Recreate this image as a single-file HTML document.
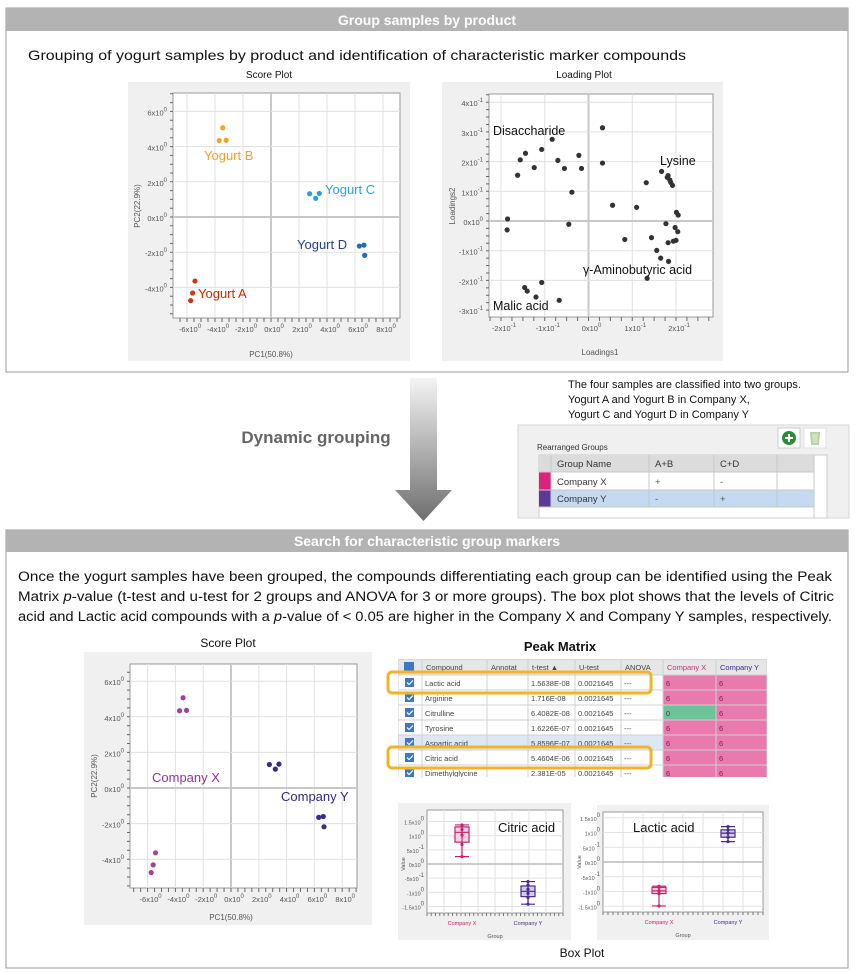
<!DOCTYPE html>
<html><head><meta charset="utf-8"><style>
html,body{margin:0;padding:0;background:#fff;}
svg{display:block;font-family:"Liberation Sans",sans-serif;}
</style></head><body>
<svg id="page" width="855" height="972" viewBox="0 0 855 972" xmlns="http://www.w3.org/2000/svg">
<defs>
<linearGradient id="arrowGrad" x1="0" y1="0" x2="0" y2="1"><stop offset="0" stop-color="#f4f4f4"/><stop offset="1" stop-color="#6e6e6e"/></linearGradient>
</defs>
<g>
<rect x="6" y="8" width="842" height="364" fill="#fff" stroke="#9a9a9a" stroke-width="1"/>
<rect x="6" y="8" width="842" height="23" fill="#b3b3b3"/>
<text x="427" y="25" text-anchor="middle" fill="#fff" font-weight="bold" font-size="14">Group samples by product</text>
<text x="28" y="60" font-size="14" fill="#111" textLength="658" lengthAdjust="spacingAndGlyphs">Grouping of yogurt samples by product and identification of characteristic marker compounds</text>
<text x="269" y="78" text-anchor="middle" font-size="10" fill="#111">Score Plot</text>
<text x="584" y="78" text-anchor="middle" font-size="10" fill="#111">Loading Plot</text>
<rect x="128" y="82" width="282" height="279" fill="#f0f0f0"/>
<rect x="442" y="82" width="281" height="279" fill="#f0f0f0"/>
<g id="score1"></g>
<g id="loading"></g>
</g>
<g>
<path d="M410,378 L437,378 L437,490 L452,490 L423.5,521 L395,490 L410,490 Z" fill="url(#arrowGrad)"/>
<text x="316" y="443" text-anchor="middle" font-size="17" font-weight="bold" fill="#666">Dynamic grouping</text>
<text x="568" y="388" font-size="11" fill="#111">The four samples are classified into two groups.</text>
<text x="568" y="403" font-size="11" fill="#111">Yogurt A and Yogurt B in Company X,</text>
<text x="568" y="418" font-size="11" fill="#111">Yogurt C and Yogurt D in Company Y</text>
<g>
<rect x="518" y="425" width="331" height="93" fill="#f0f0f0" stroke="#d6d6d6"/>
<text x="537" y="450" font-size="8" fill="#333">Rearranged Groups</text>
<rect x="778" y="428" width="22" height="20" fill="#fff" stroke="#ccc"/>
<circle cx="789" cy="438" r="7" fill="#2e8b3a"/>
<path d="M785,438 h8 M789,434 v8" stroke="#fff" stroke-width="2"/>
<rect x="804" y="428" width="22" height="20" fill="#fff" stroke="#e0e0e0"/>
<path d="M810,433 h10 M811,434 l1,10 h6 l1,-10" stroke="#b8d4a8" stroke-width="2" fill="#cfe3c2"/>
<rect x="539" y="455" width="288" height="63" fill="#fff" stroke="#ccc"/>
<rect x="539" y="455" width="275" height="17" fill="#dcdcdc"/>
<rect x="539" y="490" width="275" height="17" fill="#c5d9f1"/>
<rect x="539" y="472" width="12" height="18" fill="#e0207a"/>
<rect x="539" y="490" width="12" height="17" fill="#5b3a9a"/>
<path d="M539,472 H814 M539,490 H814 M539,507 H814 M551,455 V507 M649,455 V507 M714,455 V507 M777,455 V507 M814,455 V518" stroke="#c8c8c8"/>
<text x="557" y="467" font-size="9.5" fill="#333">Group Name</text>
<text x="655" y="467" font-size="9.5" fill="#333">A+B</text>
<text x="720" y="467" font-size="9.5" fill="#333">C+D</text>
<text x="557" y="485" font-size="9.5" fill="#333">Company X</text>
<text x="655" y="485" font-size="9.5" fill="#555">+</text>
<text x="720" y="485" font-size="9.5" fill="#555">-</text>
<text x="557" y="502" font-size="9.5" fill="#333">Company Y</text>
<text x="655" y="502" font-size="9.5" fill="#555">-</text>
<text x="720" y="502" font-size="9.5" fill="#555">+</text>
</g>
</g>
<g>
<rect x="6" y="530" width="842" height="438" fill="#fff" stroke="#9a9a9a"/>
<rect x="6" y="530" width="842" height="22" fill="#b3b3b3"/>
<text x="427" y="546" text-anchor="middle" fill="#fff" font-weight="bold" font-size="14">Search for characteristic group markers</text>
<text x="18" y="581" font-size="13.5" fill="#111" textLength="814" lengthAdjust="spacingAndGlyphs">Once the yogurt samples have been grouped, the compounds differentiating each group can be identified using the Peak</text>
<text x="18" y="601" font-size="13.5" fill="#111" textLength="816" lengthAdjust="spacingAndGlyphs">Matrix <tspan font-style="italic">p</tspan>-value (t-test and u-test for 2 groups and ANOVA for 3 or more groups). The box plot shows that the levels of Citric</text>
<text x="18" y="621" font-size="13.5" fill="#111" textLength="814" lengthAdjust="spacingAndGlyphs">acid and Lactic acid compounds with a <tspan font-style="italic">p</tspan>-value of &lt; 0.05 are higher in the Company X and Company Y samples, respectively.</text>
<text x="228" y="647" text-anchor="middle" font-size="12" fill="#111">Score Plot</text>
<rect x="84" y="652" width="288" height="273" fill="#f0f0f0"/>
<g id="score2"></g>
<text x="560" y="651" text-anchor="middle" font-size="13" font-weight="bold" fill="#111">Peak Matrix</text>
<g id="matrix"></g>
<rect x="398" y="803" width="173" height="137" fill="#f0f0f0"/>
<rect x="597" y="805" width="172" height="135" fill="#f0f0f0"/>
<g id="box1"></g>
<g id="box2"></g>
<text x="582" y="957" text-anchor="middle" font-size="12" fill="#111">Box Plot</text>
</g>
</svg>
<script>
const groupA_pc1=[-5.43,-5.6,-5.74];
const groupA_pc2=[-3.64,-4.32,-4.75];
const groupB_pc1=[-3.45,-3.7,-3.2];
const groupB_pc2=[5.07,4.34,4.36];
const groupC_pc1=[2.76,3.19,3.45];
const groupC_pc2=[1.32,1.06,1.34];
const groupD_pc1=[6.31,6.64,6.69];
const groupD_pc2=[-1.65,-1.6,-2.18];
const scoreXTicks=[-6,-4,-2,0,2,4,6,8];
const scoreYTicks=[-4,-2,0,2,4,6];
const loadX=[-0.185,-0.186,-0.162,-0.156,-0.144,-0.124,-0.107,-0.083,-0.070,-0.055,-0.038,-0.045,-0.022,-0.016,0.032,0.032,0.055,0.083,0.110,0.132,0.144,0.156,0.165,0.167,0.182,0.186,0.192,0.177,0.182,0.183,0.201,0.205,0.198,0.204,0.200,0.194,0.134,-0.107,-0.146,-0.140,-0.120,-0.067,0.180,0.188];
const loadY=[0.007,-0.030,0.154,0.206,0.228,0.180,0.241,0.275,0.204,0.177,0.097,-0.011,0.221,0.177,0.314,0.195,0.053,-0.062,0.046,0.129,-0.056,-0.099,-0.125,0.167,0.153,0.138,0.120,-0.009,-0.073,-0.136,0.029,0.020,-0.022,-0.036,-0.065,-0.068,-0.193,-0.207,-0.224,-0.236,-0.256,-0.267,0.147,0.130];
const loadXTicks=[-2,-1,0,1,2];
const loadYTicks=[-3,-2,-1,0,1,2,3,4];
const compounds=["Lactic acid","Arginine","Citrulline","Tyrosine","Aspartic acid","Citric acid","Dimethylglycine"];
const tTest=["1.5638E-08","1.716E-08","6.4082E-08","1.6226E-07","5.8596E-07","5.4604E-06","2.381E-05"];
const uTest=["0.0021645","0.0021645","0.0021645","0.0021645","0.0021645","0.0021645","0.0021645"];
const countX=[6,6,0,6,6,6,6];
const countY=[6,6,6,6,6,6,6];
const citricX=[1.38,1.34,1.22,1.02,0.69,0.26];
const citricY=[-0.62,-0.74,-0.89,-1.04,-1.19,-1.42];
const lacticX=[-0.82,-0.86,-0.98,-1.07,-1.49];
const lacticY=[1.2,1.09,0.98,0.84,0.69];
const boxYTicks=[-1.5,-1,-0.5,0,0.5,1,1.5];
const boxCats=["Company X","Company Y"];

const NS="http://www.w3.org/2000/svg";
function mk(parent,tag,attrs,txt){const e=document.createElementNS(NS,tag);for(const k in attrs)e.setAttribute(k,attrs[k]);if(txt!==undefined)e.textContent=txt;parent.appendChild(e);return e;}
function sciLabel(parent,x,y,mant,exp,anchor){
  const t=mk(parent,"text",{x:x,y:y,"font-size":7.5,fill:"#555","text-anchor":anchor});
  
  
  mk(t,"tspan",{},mant+"x10");
  mk(t,"tspan",{dy:-4,"font-size":6},exp);
  return t;
}
function axes(g,p){
  const bg=mk(g,"rect",{x:p.x0,y:p.y0,width:p.x1-p.x0,height:p.y1-p.y0,fill:"#fff",stroke:"#999"});
  
  
  p.xt.forEach(v=>{const X=p.sx(v);const l=mk(g,"line",{x1:X,x2:X,y1:p.y0,y2:p.y1,stroke:v===0?"#c8c8c8":"#e0e0e0","stroke-width":v===0?2:1});
    
    
    sciLabel(g,X+3,p.y1+14,p.xm(v),p.xe(v),"middle");});
  p.yt.forEach(v=>{const Y=p.sy(v);const l=mk(g,"line",{x1:p.x0,x2:p.x1,y1:Y,y2:Y,stroke:v===0?"#c8c8c8":"#e0e0e0","stroke-width":v===0?2:1});
    
    
    sciLabel(g,p.x0-6,Y+4,p.ym(v),p.ye(v),"end");});
  const xs=p.xt[1]-p.xt[0], ys=p.yt[1]-p.yt[0];
  let d="";
  for(let v=p.xt[0]-xs;v<=p.xt[p.xt.length-1]+xs;v+=xs/4){const X=p.sx(v);if(X>p.x0&&X<p.x1)d+=`M${X},${p.y1} v4 `;}
  for(let v=p.yt[0]-ys;v<=p.yt[p.yt.length-1]+ys;v+=ys/4){const Y=p.sy(v);if(Y>p.y0&&Y<p.y1)d+=`M${p.x0},${Y} h-3 `;}
  const tk=mk(g,"path",{d:d,stroke:"#666","stroke-width":1,fill:"none"});
  
  
}
function dots(g,xs,ys,sx,sy,color,name){
  xs.forEach((v,i)=>{const c=mk(g,"circle",{cx:sx(v),cy:sy(ys[i]),r:2.6,fill:color});
    
    });
}
function label(g,x,y,txt,color,size,name,anchor){
  const t=mk(g,"text",{x:x,y:y,fill:color,"font-size":size,"text-anchor":anchor||"start"},txt);
  
  
}
function scorePlot(g,x0,x1,y0,y1,ox,kx,oy,ky){
  const sx=v=>ox+v*kx, sy=v=>oy-v*ky;
  axes(g,{x0,x1,y0,y1,sx,sy,xt:scoreXTicks,yt:scoreYTicks,xm:v=>v,xe:()=>"0",ym:v=>v,ye:()=>"0"});
  return {sx,sy};
}
{const g=document.getElementById("score1");
 const {sx,sy}=scorePlot(g,173,400,93,318,271,14,217,17.6);
 dots(g,groupA_pc1,groupA_pc2,sx,sy,"#cc3a12","yogurt-a-point");
 dots(g,groupB_pc1,groupB_pc2,sx,sy,"#f0a22a","yogurt-b-point");
 dots(g,groupC_pc1,groupC_pc2,sx,sy,"#2a9fd8","yogurt-c-point");
 dots(g,groupD_pc1,groupD_pc2,sx,sy,"#1f6cb8","yogurt-d-point");
 label(g,198,298,"Yogurt A","#cc2a00",13,"yogurt-a-label");
 label(g,204,160,"Yogurt B","#f0a030",13,"yogurt-b-label");
 label(g,325,194,"Yogurt C","#29a3dc",13,"yogurt-c-label");
 label(g,297,249,"Yogurt D","#1f3f8f",13,"yogurt-d-label");
 label(g,271,357,"PC1(50.8%)","#555",8,"x-axis-title","middle");
 const t=mk(g,"text",{x:0,y:0,transform:"translate(140,206) rotate(-90)","font-size":8,fill:"#555","text-anchor":"middle"},"PC2(22.9%)");
 
 
}
{const g=document.getElementById("loading");
 const sx=v=>588.5+v*437.5, sy=v=>221-v*297;
 axes(g,{x0:489,x1:713,y0:94,y1:317,sx:v=>sx(v/10),sy:v=>sy(v/10),xt:loadXTicks,yt:loadYTicks,xm:v=>v,xe:v=>v===0?"0":"-1",ym:v=>v,ye:v=>v===0?"0":"-1"});
 dots(g,loadX,loadY,sx,sy,"#333","loading-point");
 label(g,493,135,"Disaccharide","#111",12.5,"disaccharide-label");
 label(g,660,165,"Lysine","#111",12.5,"lysine-label");
 label(g,583,274,"γ-Aminobutyric acid","#111",12.5,"gaba-label");
 label(g,493,310,"Malic acid","#111",12.5,"malic-acid-label");
 label(g,600,355,"Loadings1","#555",8,"x-axis-title","middle");
 const t=mk(g,"text",{x:0,y:0,transform:"translate(455,206) rotate(-90)","font-size":8,fill:"#555","text-anchor":"middle"},"Loadings2");
 
 
}
{const g=document.getElementById("score2");
 const {sx,sy}=scorePlot(g,130,357,664,888,231,13.9,788,17.8);
 dots(g,groupA_pc1.concat(groupB_pc1),groupA_pc2.concat(groupB_pc2),sx,sy,"#a2409a","company-x-point");
 dots(g,groupC_pc1.concat(groupD_pc1),groupC_pc2.concat(groupD_pc2),sx,sy,"#3b2a88","company-y-point");
 label(g,152,782,"Company X","#93368f",13,"company-x-label");
 label(g,281,801,"Company Y","#34267e",13,"company-y-label");
 label(g,231,920,"PC1(50.8%)","#555",8,"x-axis-title","middle");
 const t=mk(g,"text",{x:0,y:0,transform:"translate(97,776) rotate(-90)","font-size":8,fill:"#555","text-anchor":"middle"},"PC2(22.9%)");
 
 
}
{const g=document.getElementById("matrix");
 const cols=[398,422,487,528,575,621,663,716,767];
 const top=659,hh=16,rh=15,bottom=777;
 const cl=mk(g,"clipPath",{id:"mclip"});mk(cl,"rect",{x:398,y:659,width:369,height:bottom-659});
 const m=mk(g,"g",{"clip-path":"url(#mclip)"});
 const hb=mk(m,"rect",{x:398,y:top,width:369,height:hh,fill:"#e6e6e6",stroke:"#c8c8c8"});
 
 
 const heads=["","Compound","Annotat","t-test  ▲","U-test","ANOVA","Company X","Company Y"];
 heads.forEach((h,i)=>{if(h){const t=mk(m,"text",{x:cols[i]+4,y:top+11,"font-size":7.5,fill:i===6?"#c0307a":(i===7?"#3b2a88":"#444")},h);
   
   }});
 compounds.forEach((c,r)=>{
  const y=top+hh+r*rh;
  const rowbg=mk(m,"rect",{x:398,y:y,width:265,height:rh,fill:r===4?"#dde8f4":"#fff"});
  
  
  const cx=mk(m,"rect",{x:663,y:y,width:53,height:rh,fill:countX[r]===0?"#6cc398":"#e97aae"});
  
  
  const cy=mk(m,"rect",{x:716,y:y,width:51,height:rh,fill:countY[r]===0?"#6cc398":"#e97aae"});
  
  
  const cb=mk(m,"rect",{x:405,y:y+3,width:9,height:9,fill:"#3a78c8"});
  
  
  mk(m,"path",{d:`M407,${y+7.5} l2,2 l4,-4`,stroke:"#fff","stroke-width":1.2,fill:"none"});
  [c,"",tTest[r],uTest[r],"---",String(countX[r]),String(countY[r])].forEach((v,i)=>{
    if(v!==""){const t=mk(m,"text",{x:cols[i+1]+3,y:y+11,"font-size":7.5,fill:i>=5?"#7a2050":"#444"},v);
    
    }});
 });
 let d="";cols.forEach(x=>d+=`M${x},${top} V${bottom} `);
 for(let r=0;r<=compounds.length;r++)d+=`M398,${top+hh+r*rh} H767 `;
 const gl=mk(m,"path",{d:d,stroke:"#d0d0d0","stroke-width":1,fill:"none"});
 
 
 const ck=mk(m,"rect",{x:404,y:top+3,width:10,height:10,fill:"#3a78c8"});
 
 
 [0,5].forEach(r=>{const y=top+hh+r*rh;const h=mk(g,"rect",{x:388,y:y-3,width:263,height:rh+6,rx:4,fill:"none",stroke:"#f2b32a","stroke-width":3});
   
   });
}
function quant(a,q){const s=a.slice().sort((x,y)=>x-y);const p=(s.length-1)*q;const lo=Math.floor(p),hi=Math.ceil(p);return s[lo]+(s[hi]-s[lo])*(p-lo);}
function boxPlot(g,x0,x1,y0,y1,oy,k,cx,dataX,dataY,title,tx){
  const sy=v=>oy-v*k;
  const bg=mk(g,"rect",{x:x0,y:y0,width:x1-x0,height:y1-y0,fill:"#fff",stroke:"#999"});
  
  
  let gd="";for(let i=1;i<8;i++){const X=x0+(x1-x0)*i/8;gd+=`M${X},${y0} V${y1} `;}
  boxYTicks.forEach(v=>{gd+=`M${x0},${sy(v)} H${x1} `;});
  const gl=mk(g,"path",{d:gd,stroke:"#e2e2e2",fill:"none"});
  
  
  const zl=mk(g,"line",{x1:x0,x2:x1,y1:sy(0),y2:sy(0),stroke:"#bbb","stroke-width":1.5});
  
  
  boxYTicks.forEach(v=>{const m=Math.abs(v)===1.5?(v<0?"-1.5":"1.5"):(Math.abs(v)===1?(v<0?"-1":"1"):(v===0?"0":(v<0?"-5":"5")));
    const e=Math.abs(v)===0.5?"-1":"0";sciLabel(g,x0-3,sy(v)+3,m,e,"end").setAttribute("font-size",5.5);});
  let td="";for(let i=0;i<=32;i++){const X=x0+(x1-x0)*i/32;td+=`M${X},${y1} v3 `;}
  const tk=mk(g,"path",{d:td,stroke:"#777",fill:"none"});
  
  
  [[dataX,"#c8206e",cx[0],"#f6d2e4"],[dataY,"#4a2a8a",cx[1],"#d6cce8"]].forEach(([d,col,X,fill],i)=>{
    const q1=quant(d,0.25),q3=quant(d,0.75),md=quant(d,0.5),mn=Math.min(...d),mxv=Math.max(...d);
    const b=mk(g,"rect",{x:X-7,y:sy(q3),width:14,height:sy(q1)-sy(q3),fill:fill,stroke:col,"stroke-width":1.2});
    
    
    const w=mk(g,"path",{d:`M${X},${sy(mxv)} V${sy(mn)} M${X-7},${sy(md)} h14 M${X-7},${sy(mn)} h14 M${X-7},${sy(mxv)} h14`,stroke:col,"stroke-width":1.2,fill:"none"});
    
    
    d.forEach(v=>{const c=mk(g,"circle",{cx:X,cy:sy(v),r:1.6,fill:col});
      
      });
    label(g,X,y1+12,boxCats[i],col,5.5,"category-label","middle");
  });
  label(g,(x0+x1)/2,y1+25,"Group","#555",5.5,"x-axis-title","middle");
  const t=mk(g,"text",{x:0,y:0,transform:`translate(${x0-22},${sy(0)}) rotate(-90)`,"font-size":5.5,fill:"#555","text-anchor":"middle"},"Value");
  
  
  label(g,tx[0],tx[1],title,"#111",13,"box-plot-compound-label");
}
boxPlot(document.getElementById("box1"),427,563,810,913,864,28.3,[462,528],citricX,citricY,"Citric acid",[498,832]);
boxPlot(document.getElementById("box2"),603,763,812,912,862,29.5,[659,728],lacticX,lacticY,"Lactic acid",[633,832]);
</script>
</body></html>
